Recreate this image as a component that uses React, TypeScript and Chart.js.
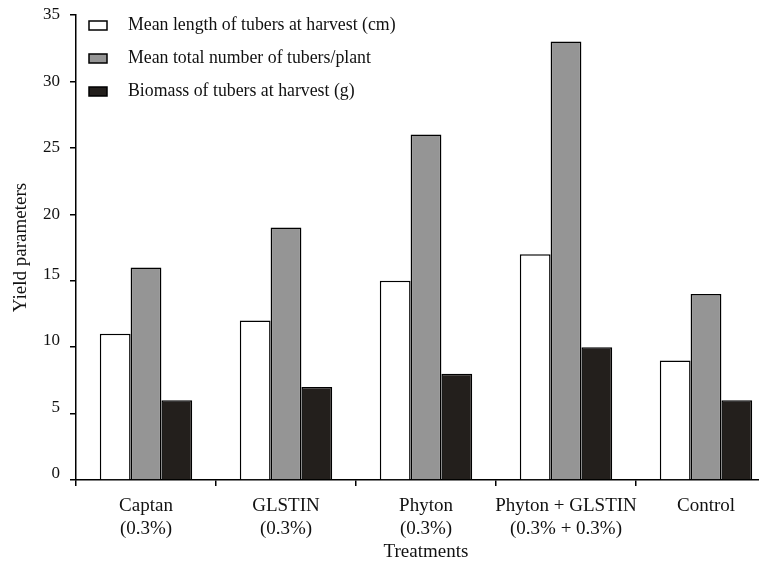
import React, { useEffect, useRef } from "react";
import { Chart, registerables } from "chart.js";

Chart.register(...registerables);

const categories: string[][] = [
  ["Captan", "(0.3%)"],
  ["GLSTIN", "(0.3%)"],
  ["Phyton", "(0.3%)"],
  ["Phyton + GLSTIN", "(0.3% + 0.3%)"],
  ["Control"],
];
const meanLength = [11, 12, 15, 17, 9];
const meanNumber = [16, 19, 26, 33, 14];
const biomass = [6, 7, 8, 10, 6];
const seriesNames = [
  "Mean length of tubers at harvest (cm)",
  "Mean total number of tubers/plant",
  "Biomass of tubers at harvest (g)",
];
const yTicks = [0, 5, 10, 15, 20, 25, 30, 35];
// tick labels that sit slightly above their tick mark in the original
const raisedTickLabels = [0, 5, 10, 15];

const FONT = "'Liberation Serif', 'Times New Roman', serif";

const legendPlugin = {
  id: "insideLegend",
  afterDraw(chart: any) {
    const ctx = chart.ctx;
    const area = chart.chartArea;
    ctx.save();
    chart.data.datasets.forEach((ds: any, i: number) => {
      const bx = area.left + 13;
      const by = area.top + 6 + i * 33;
      ctx.fillStyle = ds.backgroundColor;
      ctx.fillRect(bx, by, 18, 9);
      ctx.strokeStyle = "#000";
      ctx.lineWidth = 1.5;
      ctx.strokeRect(bx, by, 18, 9);
      ctx.fillStyle = "#111";
      ctx.font = `17.8px ${FONT}`;
      ctx.textBaseline = "middle";
      ctx.textAlign = "left";
      ctx.fillText(ds.label, bx + 39, by + 4.5);
    });
    ctx.restore();
  },
};

export default function App() {
  const ref = useRef<HTMLCanvasElement>(null);
  useEffect(() => {
    if (!ref.current) return;
    const mk = (label: string, data: number[], color: string) => ({
      label,
      data,
      backgroundColor: color,
      borderColor: "#000",
      borderWidth: 1.5,
      categoryPercentage: 0.66,
      barPercentage: 1,
    });
    const chart = new Chart(ref.current, {
      type: "bar",
      data: {
        labels: categories,
        datasets: [
          mk(seriesNames[0], meanLength, "#ffffff"),
          mk(seriesNames[1], meanNumber, "#959595"),
          mk(seriesNames[2], biomass, "#231f1c"),
        ],
      },
      options: {
        animation: false,
        responsive: false,
        layout: { autoPadding: false, padding: { top: 15, right: 14, left: 0, bottom: 0 } },
        plugins: { legend: { display: false }, tooltip: { enabled: false } },
        scales: {
          x: {
            grid: {
              display: true,
              drawOnChartArea: false,
              drawTicks: true,
              tickLength: 6,
              color: "#000",
              lineWidth: 1.5,
              offset: true,
            },
            border: { display: true, color: "#000", width: 1.5 },
            ticks: {
              color: "#111",
              font: { family: FONT, size: 19, lineHeight: 1.2 },
              padding: 9,
              maxRotation: 0,
              autoSkip: false,
            },
            title: {
              display: true,
              text: "Treatments",
              color: "#111",
              font: { family: FONT, size: 19 },
              padding: { top: 4, bottom: 6 },
            },
            afterFit(scale: any) {
              scale.height = 89;
              scale.paddingLeft = 0;
              scale.paddingRight = 0;
            },
          },
          y: {
            min: 0,
            max: 35,
            afterBuildTicks(scale: any) {
              scale.ticks = yTicks.map((v) => ({ value: v }));
            },
            grid: {
              display: true,
              drawOnChartArea: false,
              drawTicks: true,
              tickLength: 6,
              color: "#000",
              lineWidth: 1.5,
            },
            border: { display: true, color: "#000", width: 1.5 },
            ticks: {
              color: "#111",
              font: { family: FONT, size: 17, lineHeight: 0.72 },
              padding: 10,
              callback(value: any) {
                const v = Number(value);
                return raisedTickLabels.includes(v) ? [String(v), ""] : String(v);
              },
            },
            title: {
              display: true,
              text: "Yield parameters",
              color: "#111",
              font: { family: FONT, size: 19 },
              padding: { top: 10, bottom: 0 },
            },
            afterFit(scale: any) {
              scale.width = 76;
              scale.paddingTop = 0;
              scale.paddingBottom = 0;
            },
          },
        },
      },
      plugins: [legendPlugin],
    });
    return () => chart.destroy();
  }, []);
  return (
    <div
      style={{
        width: 759,
        height: 569,
        marginLeft: -8,
        marginTop: -8,
        marginBottom: -8,
        overflow: "hidden",
        background: "#fff",
      }}
    >
      <canvas ref={ref} width={790} height={569} style={{ display: "block" }} />
    </div>
  );
}
